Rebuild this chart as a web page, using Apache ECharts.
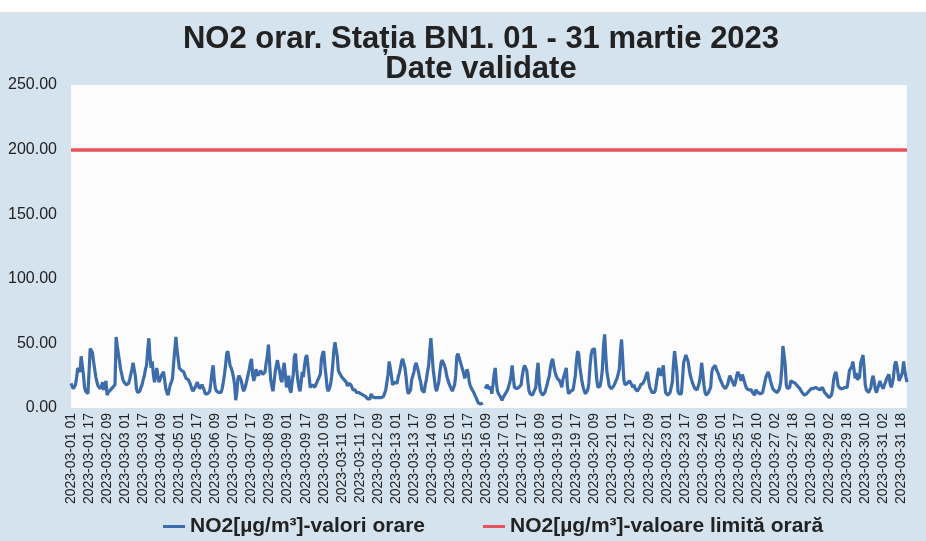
<!DOCTYPE html>
<html><head><meta charset="utf-8">
<script src="https://cdn.jsdelivr.net/npm/echarts@6/dist/echarts.min.js"></script>
<style>html,body{margin:0;padding:0;background:#fff}#c{width:926px;height:541px}</style>
</head><body><div id="c"></div>
<script>
const titleLine1 = 'NO2 orar. Stația BN1. 01 - 31 martie 2023';
const titleLine2 = 'Date validate';
const seriesName = 'NO2[µg/m³]-valori orare';
const limitName = 'NO2[µg/m³]-valoare limită orară';
const limitValue = 200;
const yMin = 0, yMax = 250, yStep = 50;

// hourly NO2 values, 2023-03-01 01 ... 2023-03-31 23 (null = missing)
const no2Values = [
19,17,15,16,18,24,31,30,28,40,
33,26,16,13,12,11,28,46,47,43,
36,30,24,20,17,16,15,17,20,14,
17,21,10,12,13,14,15,16,17,18,
55,48,42,36,30,26,22,20,19,18,
19,19,22,26,30,35,30,25,15,12,
11,13,16,18,22,25,30,33,45,54,
40,31,36,26,20,24,31,25,20,22,
25,26,28,22,15,12,10,14,18,20,
23,35,45,55,45,38,31,30,29,28,
28,25,23,23,22,20,18,15,13,14,
16,18,20,17,15,16,18,18,14,11,
10,11,12,13,20,28,33,22,15,13,
13,12,11,12,15,20,26,33,42,44,
45,33,31,28,24,18,6,12,23,25,
26,21,16,13,15,18,22,26,30,35,
38,26,21,24,30,27,25,27,29,30,
26,27,28,35,40,49,35,22,17,13,
20,28,33,37,32,28,22,20,30,35,
26,16,19,25,14,12,20,26,40,42,
30,22,16,13,20,28,24,33,39,41,
33,25,16,17,18,18,16,18,20,22,
24,26,38,42,44,33,25,16,13,15,
18,24,33,45,51,45,40,29,27,26,
24,23,22,21,20,17,19,20,18,16,
14,13,14,12,11,12,12,11,11,10,
9,9,8,7,7,7,11,9,9,8,
8,8,8,8,8,8,9,9,9,14,
20,26,36,31,25,18,17,20,19,19,
24,27,31,36,38,38,31,24,15,11,
12,14,22,25,28,33,35,35,28,23,
20,14,13,12,18,22,28,33,45,54,
42,30,23,16,13,13,20,28,35,37,
36,33,30,25,22,19,17,15,13,12,
18,25,40,42,41,36,33,30,27,23,
26,30,27,20,17,15,14,12,10,8,
6,4,3,3,3,4,null,15,16,18,
15,15,16,11,18,26,31,20,13,11,
10,8,6,8,9,11,12,14,15,20,
25,33,24,16,15,15,15,16,17,18,
25,30,33,32,29,20,13,11,10,10,
11,14,16,28,35,20,13,12,10,11,
12,15,18,22,25,32,36,38,32,28,
25,23,22,21,19,16,22,25,28,31,
17,11,12,13,12,14,15,25,36,44,
42,32,26,20,16,13,11,10,14,19,
32,41,45,46,46,34,22,16,16,17,
22,30,48,57,41,28,23,17,16,15,
16,17,18,21,23,24,30,44,53,38,
22,18,17,19,20,21,22,18,16,18,
15,14,13,12,16,18,19,19,21,23,
26,28,21,16,14,12,11,12,14,20,
26,31,32,25,28,33,21,12,11,10,
11,12,16,20,34,44,36,28,13,11,
10,11,22,35,38,41,41,36,30,25,
22,19,17,15,14,14,15,20,26,35,
27,18,12,10,11,12,14,16,28,31,
32,33,30,28,26,23,22,19,17,16,
15,15,18,22,25,23,21,19,17,20,
25,28,26,24,21,26,23,20,17,15,
14,14,15,14,12,11,10,14,13,12,
12,11,12,12,13,20,24,26,28,25,
21,18,15,14,13,12,12,13,15,20,
30,48,49,34,18,15,14,16,21,22,
20,19,19,18,17,16,15,14,12,11,
10,10,11,12,13,14,15,15,15,16,
16,17,15,15,14,13,16,15,12,11,
10,9,8,9,10,14,22,26,28,23,
17,16,15,15,15,15,16,16,16,17,
29,28,32,36,30,23,27,22,21,24,
35,38,41,31,18,14,13,12,13,16,
22,25,20,14,12,15,18,21,18,17,
15,18,20,23,24,26,19,16,19,24,
33,36,33,27,21,22,25,28,36,29,
24,20
];

// timestamps: hourly from 2023-03-01 01, summer-time hour skipped on 2023-03-26
const dstSkipIndex = 602;
const pad = n => String(n).padStart(2, '0');
const categories = no2Values.map((_, k) => {
  const h = k + 1 + (k >= dstSkipIndex ? 1 : 0);
  return '2023-03-' + pad(1 + Math.floor(h / 24)) + ' ' + pad(h % 24);
});

const FONT = '"Liberation Sans", Arial, sans-serif';
const chart = echarts.init(document.getElementById('c'));
chart.setOption({
  animation: false,
  backgroundColor: '#ffffff',
  graphic: [{
    type: 'rect', z: -10, left: 0, top: 12,
    shape: { width: 926, height: 529 },
    style: { fill: '#d4e3ee' }
  }],
  title: [
    { text: titleLine1, left: 476, top: 19, textAlign: 'center',
      textStyle: { fontFamily: FONT, fontSize: 31, fontWeight: 'bold', color: '#222' } },
    { text: titleLine2, left: 476, top: 49, textAlign: 'center',
      textStyle: { fontFamily: FONT, fontSize: 31, fontWeight: 'bold', color: '#222' } }
  ],
  legend: {
    left: 158, top: 511, itemGap: 58, itemWidth: 22, itemHeight: 3, icon: 'rect',
    textStyle: { fontFamily: FONT, fontSize: 21, fontWeight: 'bold', color: '#222' },
    data: [seriesName, limitName]
  },
  grid: { left: 71, right: 19, top: 85, bottom: 133, show: true, backgroundColor: '#fcfcfc', borderWidth: 0 },
  xAxis: {
    type: 'category', boundaryGap: false, data: categories,
    axisLine: { show: false }, axisTick: { show: false },
    axisLabel: { interval: 15, rotate: 90, margin: 5, fontFamily: FONT, fontSize: 14, color: '#222' }
  },
  yAxis: {
    type: 'value', min: yMin, max: yMax, interval: yStep,
    axisLine: { show: false }, axisTick: { show: false }, splitLine: { show: false },
    axisLabel: { margin: 14, fontFamily: FONT, fontSize: 16, color: '#222', formatter: v => v.toFixed(2) }
  },
  series: [
    { name: seriesName, type: 'line', data: no2Values, showSymbol: false, connectNulls: false,
      color: '#3d6cab', lineStyle: { color: '#3d6cab', width: 3.2 } },
    { name: limitName, type: 'line', data: [], color: '#e8525d',
      markLine: { silent: true, symbol: 'none', label: { show: false },
        lineStyle: { color: '#e8525d', width: 3.5, type: 'solid' },
        data: [{ yAxis: limitValue }] } }
  ]
});
</script></body></html>
